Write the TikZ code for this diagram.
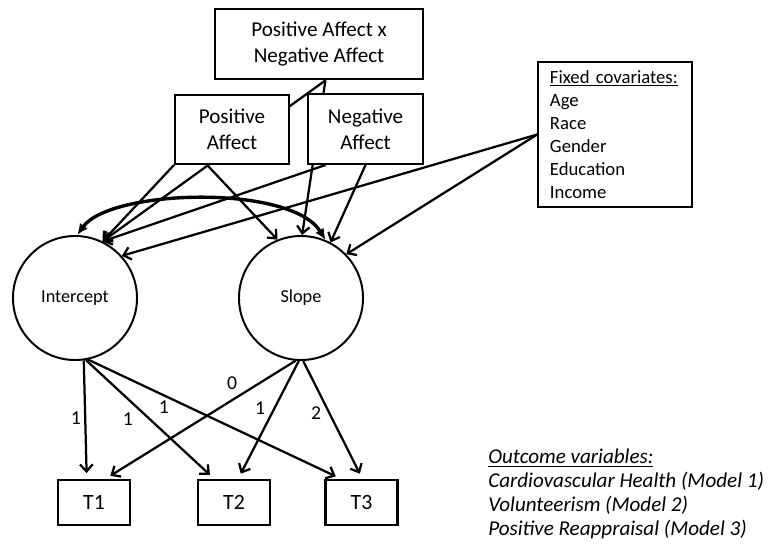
\documentclass[tikz,border=0pt]{standalone}
\usepackage{fontspec}
\setmainfont{Carlito}
\usetikzlibrary{arrows.meta,backgrounds}

\begin{document}
\begin{tikzpicture}[x=0.025cm, y=-0.025cm,
  box/.style={rectangle, draw, fill=white, line width=1.4pt, align=center, inner sep=0pt,
    font=\fontsize{15}{18.5}\selectfont},
  latent/.style={circle, draw, line width=1.4pt, minimum size=3.1cm, inner sep=0pt,
    font=\fontsize{13}{15}\selectfont},
  timebox/.style={rectangle, draw, line width=1.8pt, minimum width=1.8cm, minimum height=1.125cm,
    inner sep=0pt, font=\fontsize{15.5}{18}\selectfont},
  reg/.style={line width=1.6pt, -{Straight Barb[length=5pt,width=9pt]}},
  load/.style={reg, shorten >=4pt},
  cov/.style={line width=2.4pt, {Latex[length=8pt,width=7pt]}-{Latex[length=8pt,width=7pt]}},
  lbl/.style={inner sep=0pt, font=\fontsize{14}{16}\selectfont}]

  \useasboundingbox (0,0) rectangle (773,551);

  \node (ix) [box, line width=2pt, minimum width=5.2cm, minimum height=1.75cm] at (319,44)
    {Positive Affect x\\Negative Affect};
  \node (pa) [box, minimum width=2.85cm, minimum height=1.725cm] at (232,129.5) {Positive\\Affect};
  \node (na) [box, minimum width=2.875cm, minimum height=1.75cm] at (365.5,129) {Negative\\Affect};
  \node (covs) [rectangle, draw, line width=1.1pt, text width=3.25cm, inner xsep=0.3cm, inner ysep=0pt,
    minimum height=3.625cm, align=left, font=\fontsize{13.3}{16.3}\selectfont] at (615,134.5)
    {\underline{Fixed covariates:}\\Age\\Race\\Gender\\Education\\Income};

  \node (icpt) [latent] at (75,298) {Intercept};
  \node (slope) [latent] at (301,298) {Slope};

  \node (T1) [timebox] at (94,502.5) {T1};
  \node (T2) [timebox] at (234,502.5) {T2};
  \node (T3) [timebox] at (361.5,502.5) {T3};

  \node (outcomes) [anchor=west, inner sep=0pt, align=left, font=\fontsize{15}{17}\selectfont\itshape]
    at (488,494)
    {\underline{Outcome variables:}\\Cardiovascular Health (Model 1)\\Volunteerism (Model 2)\\Positive Reappraisal (Model 3)};

  \begin{scope}[on background layer]
    \draw[reg] (ix.-80) -- (icpt.64);
    \draw[reg] (ix.-80) -- (slope.89);
  \end{scope}

  \draw[reg] (pa.south west) -- (icpt.64);
  \draw[reg] (na.-138) -- (icpt.64);
  \draw[reg] (covs.west) -- (icpt.42);
  \draw[reg] (pa.-125) -- (slope.112);
  \draw[reg] (na.south) -- (slope.62);
  \draw[reg] (covs.west) -- (slope.44);

  \draw[cov] (icpt.88) .. controls +(33,-46) and +(-35,-56) .. (slope.67);

  \draw[load] (icpt.-82) -- (T1.107) node[lbl, pos=0.49, xshift=-6.6pt] {1};
  \draw[load] (icpt.-80) -- (T2.130) node[lbl, pos=0.4, xshift=-6.7pt, yshift=-8.2pt] {1};
  \draw[load] (icpt.-78) -- (T3.131) node[lbl, pos=0.3, yshift=-8.5pt] {1};
  \draw[load] (slope.-95) -- (T1.64) node[lbl, pos=0.334, yshift=12pt] {0};
  \draw[load] (slope.-92) -- (T2.80) node[lbl, pos=0.405, xshift=-10pt] {1};
  \draw[load] (slope.-88) -- (T3.88) node[lbl, pos=0.446, xshift=-9.6pt] {2};
\end{tikzpicture}
\end{document}
